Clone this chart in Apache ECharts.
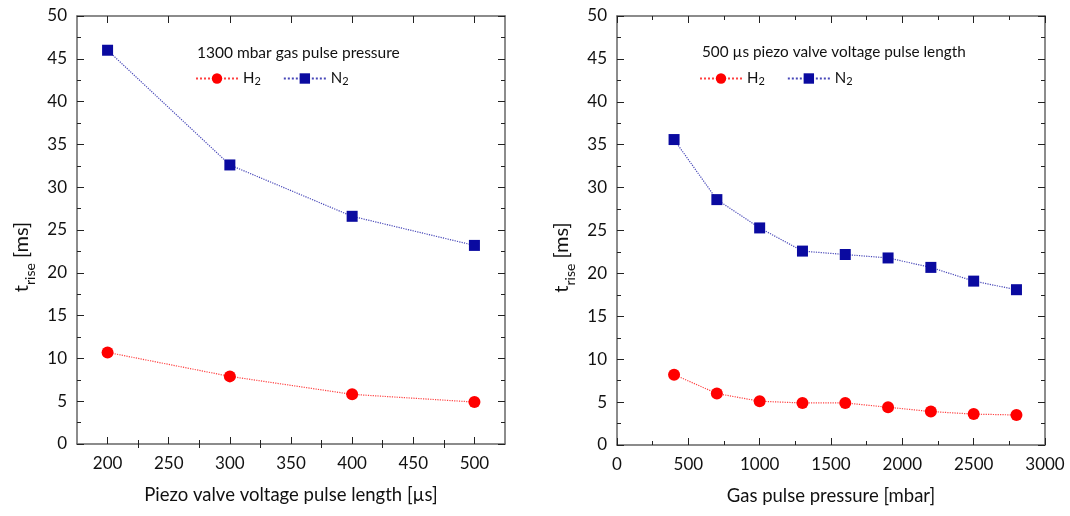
<!DOCTYPE html>
<html>
<head>
<meta charset="utf-8">
<script src="https://cdn.jsdelivr.net/npm/echarts@6/dist/echarts.min.js"></script>
<style>html,body{margin:0;padding:0;background:#fff}#c{width:1070px;height:516px}</style>
</head>
<body>
<div id="c"></div>
<script>
// Left panel: pulse length [µs] at 1300 mbar
const leftX = [200, 300, 400, 500];
const leftH2 = [10.7, 7.9, 5.8, 4.9];
const leftN2 = [46.0, 32.6, 26.6, 23.2];
// Right panel: gas pulse pressure [mbar] at 500 µs
const rightX = [400, 700, 1000, 1300, 1600, 1900, 2200, 2500, 2800];
const rightH2 = [8.2, 6.0, 5.1, 4.9, 4.9, 4.4, 3.9, 3.6, 3.5];
const rightN2 = [35.6, 28.6, 25.3, 22.6, 22.2, 21.8, 20.7, 19.1, 18.1];
// Tick labels / tick positions of the left x axis
const leftXTicks = [200, 250, 300, 350, 400, 450, 500];
const leftXMinorTicks = [225, 275, 325, 375, 425, 475];

const leftTitle = '1300 mbar gas pulse pressure';
const rightTitle = '500 \u00b5s piezo valve voltage pulse length';
const leftXName = 'Piezo valve voltage pulse length [\u00b5s]';
const rightXName = 'Gas pulse pressure [mbar]';

const FONT = 'Lato, "Open Sans", sans-serif';
const AX = '#666';
const red = '#ff0000', blue = '#0a0aa0';
const fmt = v => String(v);

function pairs(xs, ys){ return xs.map((x,i)=>[x, ys[i]]); }

function tickBase(gi, min, max, interval){
  return {
    gridIndex: gi, type: 'value', min: min, max: max, interval: interval,
    axisLine: {show: true, onZero: false, lineStyle: {color: AX, width: 1.5}},
    axisTick: {show: true, inside: true, length: 7, lineStyle: {color: '#222'}},
    minorTick: {show: true, splitNumber: 2, length: 4, lineStyle: {color: '#222'}},
    splitLine: {show: false}
  };
}
function xName(name){
  return {name: name, nameLocation: 'middle', nameGap: 42,
    nameTextStyle: {fontFamily: FONT, fontSize: 18.5, color: '#111'}};
}
const xLabel = {show: true, fontFamily: FONT, fontSize: 17, color: '#111', margin: 11, formatter: fmt};

// left: 4 axes (bottom, top, bottom-minor, top-minor); right: 2 axes
function leftXAxes(){
  const b = tickBase(0, 175, 525, 25);
  b.minorTick = {show: false};
  const major = Object.assign({}, b, {
    axisTick: Object.assign({}, b.axisTick, {customValues: leftXTicks}),
  });
  const minor = Object.assign({}, b, {
    axisLine: {show: false},
    axisTick: Object.assign({}, b.axisTick, {length: 4, customValues: leftXMinorTicks}),
    axisLabel: {show: false}
  });
  return [
    Object.assign({}, major, xName(leftXName), {position: 'bottom',
      axisLabel: Object.assign({}, xLabel, {customValues: leftXTicks})}),
    Object.assign({}, major, {position: 'top', axisLabel: {show: false}}),
    Object.assign({}, minor, {position: 'bottom'}),
    Object.assign({}, minor, {position: 'top'})
  ];
}
function rightXAxes(){
  const b = tickBase(1, 0, 3000, 500);
  return [
    Object.assign({}, b, xName(rightXName), {position: 'bottom', axisLabel: xLabel}),
    Object.assign({}, b, {position: 'top', axisLabel: {show: false}})
  ];
}
function yAxes(gi){
  const base = tickBase(gi, 0, 50, 5);
  return [
    Object.assign({}, base, {
      position: 'left', name: '{t|t}{s|rise}{u| [ms]}', nameLocation: 'middle', nameRotate: 90, nameGap: 40,
      nameTextStyle: {
        fontFamily: FONT, color: '#111',
        rich: {
          t: {fontFamily: FONT, fontSize: 20, color: '#111', lineHeight: 30, verticalAlign: 'middle'},
          s: {fontFamily: FONT, fontSize: 14, color: '#111', lineHeight: 30, verticalAlign: 'bottom'},
          u: {fontFamily: FONT, fontSize: 20, color: '#111', lineHeight: 30, verticalAlign: 'middle', padding: [0, 54, 0, 0]}
        }
      },
      axisLabel: {show: true, fontFamily: FONT, fontSize: 17, color: '#111', margin: 10, formatter: fmt}
    }),
    Object.assign({}, base, {position: 'right', axisLabel: {show: false}})
  ];
}

function series(name, xi, yi, data, color, sym, size){
  return {
    name: name, type: 'line', xAxisIndex: xi, yAxisIndex: yi, data: data,
    symbol: sym, symbolSize: size, showSymbol: true,
    itemStyle: {color: color},
    lineStyle: {color: color, type: 'dotted', width: 1.2, opacity: 0.75},
    z: 3
  };
}

const legendRich = {
  a: {fontFamily: FONT, fontSize: 15, color: '#111'},
  b: {fontFamily: FONT, fontSize: 11, color: '#111', verticalAlign: 'bottom', lineHeight: 16}
};
function legend(left){
  return {
    left: left, top: 66, orient: 'horizontal', itemWidth: 42, itemHeight: 13, itemGap: 22,
    data: ['H2', 'N2'],
    formatter: function(n){ return '{a|' + n.charAt(0) + '}{b|' + n.charAt(1) + '}'; },
    textStyle: {rich: legendRich, fontFamily: FONT, fontSize: 15}
  };
}

const chart = echarts.init(document.getElementById('c'), null, {renderer: 'canvas'});
chart.setOption({
  backgroundColor: '#fff',
  animation: false,
  title: [
    {text: leftTitle, left: 192, top: 40, textStyle: {fontFamily: FONT, fontSize: 15.5, fontWeight: 'normal', color: '#111'}},
    {text: rightTitle, left: 697, top: 40, textStyle: {fontFamily: FONT, fontSize: 15.3, fontWeight: 'normal', color: '#111'}}
  ],
  legend: [legend(190), legend(694)],
  grid: [
    {left: 77, right: 565, top: 16, bottom: 72},
    {left: 617, right: 25, top: 16, bottom: 71}
  ],
  xAxis: [].concat(leftXAxes(), rightXAxes()),
  yAxis: [].concat(yAxes(0), yAxes(1)),
  series: [
    series('H2', 0, 0, pairs(leftX, leftH2), red, 'circle', 12),
    series('N2', 0, 0, pairs(leftX, leftN2), blue, 'rect', 11),
    series('H2', 4, 2, pairs(rightX, rightH2), red, 'circle', 12),
    series('N2', 4, 2, pairs(rightX, rightN2), blue, 'rect', 11)
  ]
});
</script>
</body>
</html>
